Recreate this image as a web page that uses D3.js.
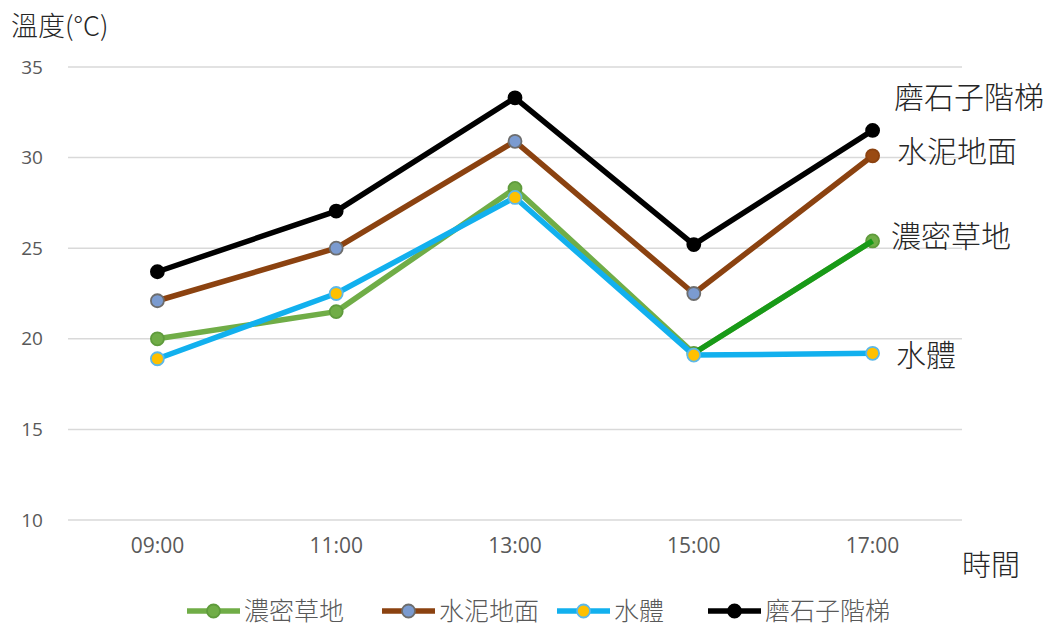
<!DOCTYPE html>
<html><head><meta charset="utf-8">
<script src="https://cdn.jsdelivr.net/npm/d3@7"></script>
<style>body{margin:0;background:#fff;} svg{display:block;} text{font-family:"Noto Sans CJK TC","Noto Sans",sans-serif;}</style>
</head><body>
<svg id="c" width="1054" height="632"></svg>
<script>
const categories = ["09:00","11:00","13:00","15:00","17:00"];
const seriesNames = ["濃密草地","水泥地面","水體","磨石子階梯"];
const grass = [20.0, 21.5, 28.3, 19.2, 25.4];
const cement = [22.1, 25.0, 30.9, 22.5, 30.1];
const water = [18.9, 22.5, 27.8, 19.1, 19.2];
const terrazzo = [23.7, 27.05, 33.3, 25.2, 31.5];
const yTicks = [10, 15, 20, 25, 30, 35];

const styles = [
  {line:"#70ad47", fill:"#70ad47", stroke:"#5f9b3c"},
  {line:"#8b4210", fill:"#7b9bd0", stroke:"#6d6d6d"},
  {line:"#12b0ee", fill:"#ffc000", stroke:"#5cb8e8"},
  {line:"#000000", fill:"#000000", stroke:"#000000"}
];
const data = [grass, cement, water, terrazzo];

const svg = d3.select("#c");
const x = d3.scaleBand().domain(categories).range([68, 962]);
const y = d3.scaleLinear().domain([10, 35]).range([520, 67]);
const cx = c => x(c) + x.bandwidth()/2;

// gridlines
svg.append("g").selectAll("line").data(yTicks).join("line")
  .attr("x1", 68).attr("x2", 962)
  .attr("y1", d => y(d)).attr("y2", d => y(d))
  .attr("stroke", "#d9d9d9").attr("stroke-width", 1.5);

// y axis labels
const yAxis = d3.axisLeft(y).tickValues(yTicks).tickSize(0).tickPadding(0);
const ya = svg.append("g").attr("transform", "translate(42,0)").call(yAxis);
ya.select(".domain").remove();
ya.selectAll("text").attr("font-size", 19).attr("fill", "#595959")
  .attr("text-anchor", "middle").attr("dx", -10)
  .style("font-family", '"Open Sans","Noto Sans",sans-serif');

// x axis labels
const xAxis = d3.axisBottom(x).tickSize(0).tickPadding(0);
const xa = svg.append("g").attr("transform", "translate(0,540)").call(xAxis);
xa.select(".domain").remove();
xa.selectAll("text").attr("font-size", 21).attr("fill", "#595959").attr("dy", "0.6em")
  .style("font-family", '"Open Sans","Noto Sans",sans-serif');

const line = d3.line().x((d,i) => cx(categories[i])).y(d => y(d));

data.forEach((vals, si) => {
  const st = styles[si];
  const g = svg.append("g");
  g.append("path").datum(vals).attr("d", line)
    .attr("fill", "none").attr("stroke", st.line).attr("stroke-width", 5.5)
    .attr("stroke-linejoin", "round");
  if (si === 2) {
    // highlighted last segment of grass series drawn over water series
    g.append("path").datum(grass.slice(3))
      .attr("d", d3.line().x((d,i) => cx(categories[i+3])).y(d => y(d)))
      .attr("fill", "none").attr("stroke", "#189a18").attr("stroke-width", 5.5);
  }
  g.selectAll("circle").data(vals).join("circle")
    .attr("cx", (d,i) => cx(categories[i])).attr("cy", d => y(d))
    .attr("r", 6.5)
    .attr("fill", (d,i) => (si === 1 && i === 4) ? "#9a4a12" : st.fill)
    .attr("stroke", (d,i) => (si === 1 && i === 4) ? "#8b4210" : st.stroke)
    .attr("stroke-width", 1.8);
});

// right-side series labels
const labelPos = [
  {name:"磨石子階梯", x:894, y:108},
  {name:"水泥地面", x:897, y:162},
  {name:"濃密草地", x:891, y:247},
  {name:"水體", x:896, y:366}
];
svg.append("g").selectAll("text").data(labelPos).join("text")
  .attr("x", d => d.x).attr("y", d => d.y).text(d => d.name)
  .attr("font-size", 30).attr("font-weight", 300).attr("fill", "#262626");

// axis titles
svg.append("text").attr("x", 11).attr("y", 36).text("溫度(°C)")
  .attr("font-size", 27).attr("font-weight", 300).attr("fill", "#262626");
svg.append("text").attr("x", 962).attr("y", 576).text("時間")
  .attr("font-size", 29).attr("font-weight", 300).attr("fill", "#262626");

// legend
const legendX = [187, 382, 557, 708];
const lg = svg.append("g");
seriesNames.forEach((n, i) => {
  const st = styles[i];
  const lx = legendX[i], ly = 611;
  lg.append("line").attr("x1", lx).attr("x2", lx + 53).attr("y1", ly).attr("y2", ly)
    .attr("stroke", st.line).attr("stroke-width", 5.5);
  lg.append("circle").attr("cx", lx + 26.5).attr("cy", ly).attr("r", 6.5)
    .attr("fill", st.fill).attr("stroke", st.stroke).attr("stroke-width", 1.8);
  lg.append("text").attr("x", lx + 57).attr("y", ly + 9).text(n)
    .attr("font-size", 25).attr("font-weight", 300).attr("fill", "#595959");
});
</script>
</body></html>
